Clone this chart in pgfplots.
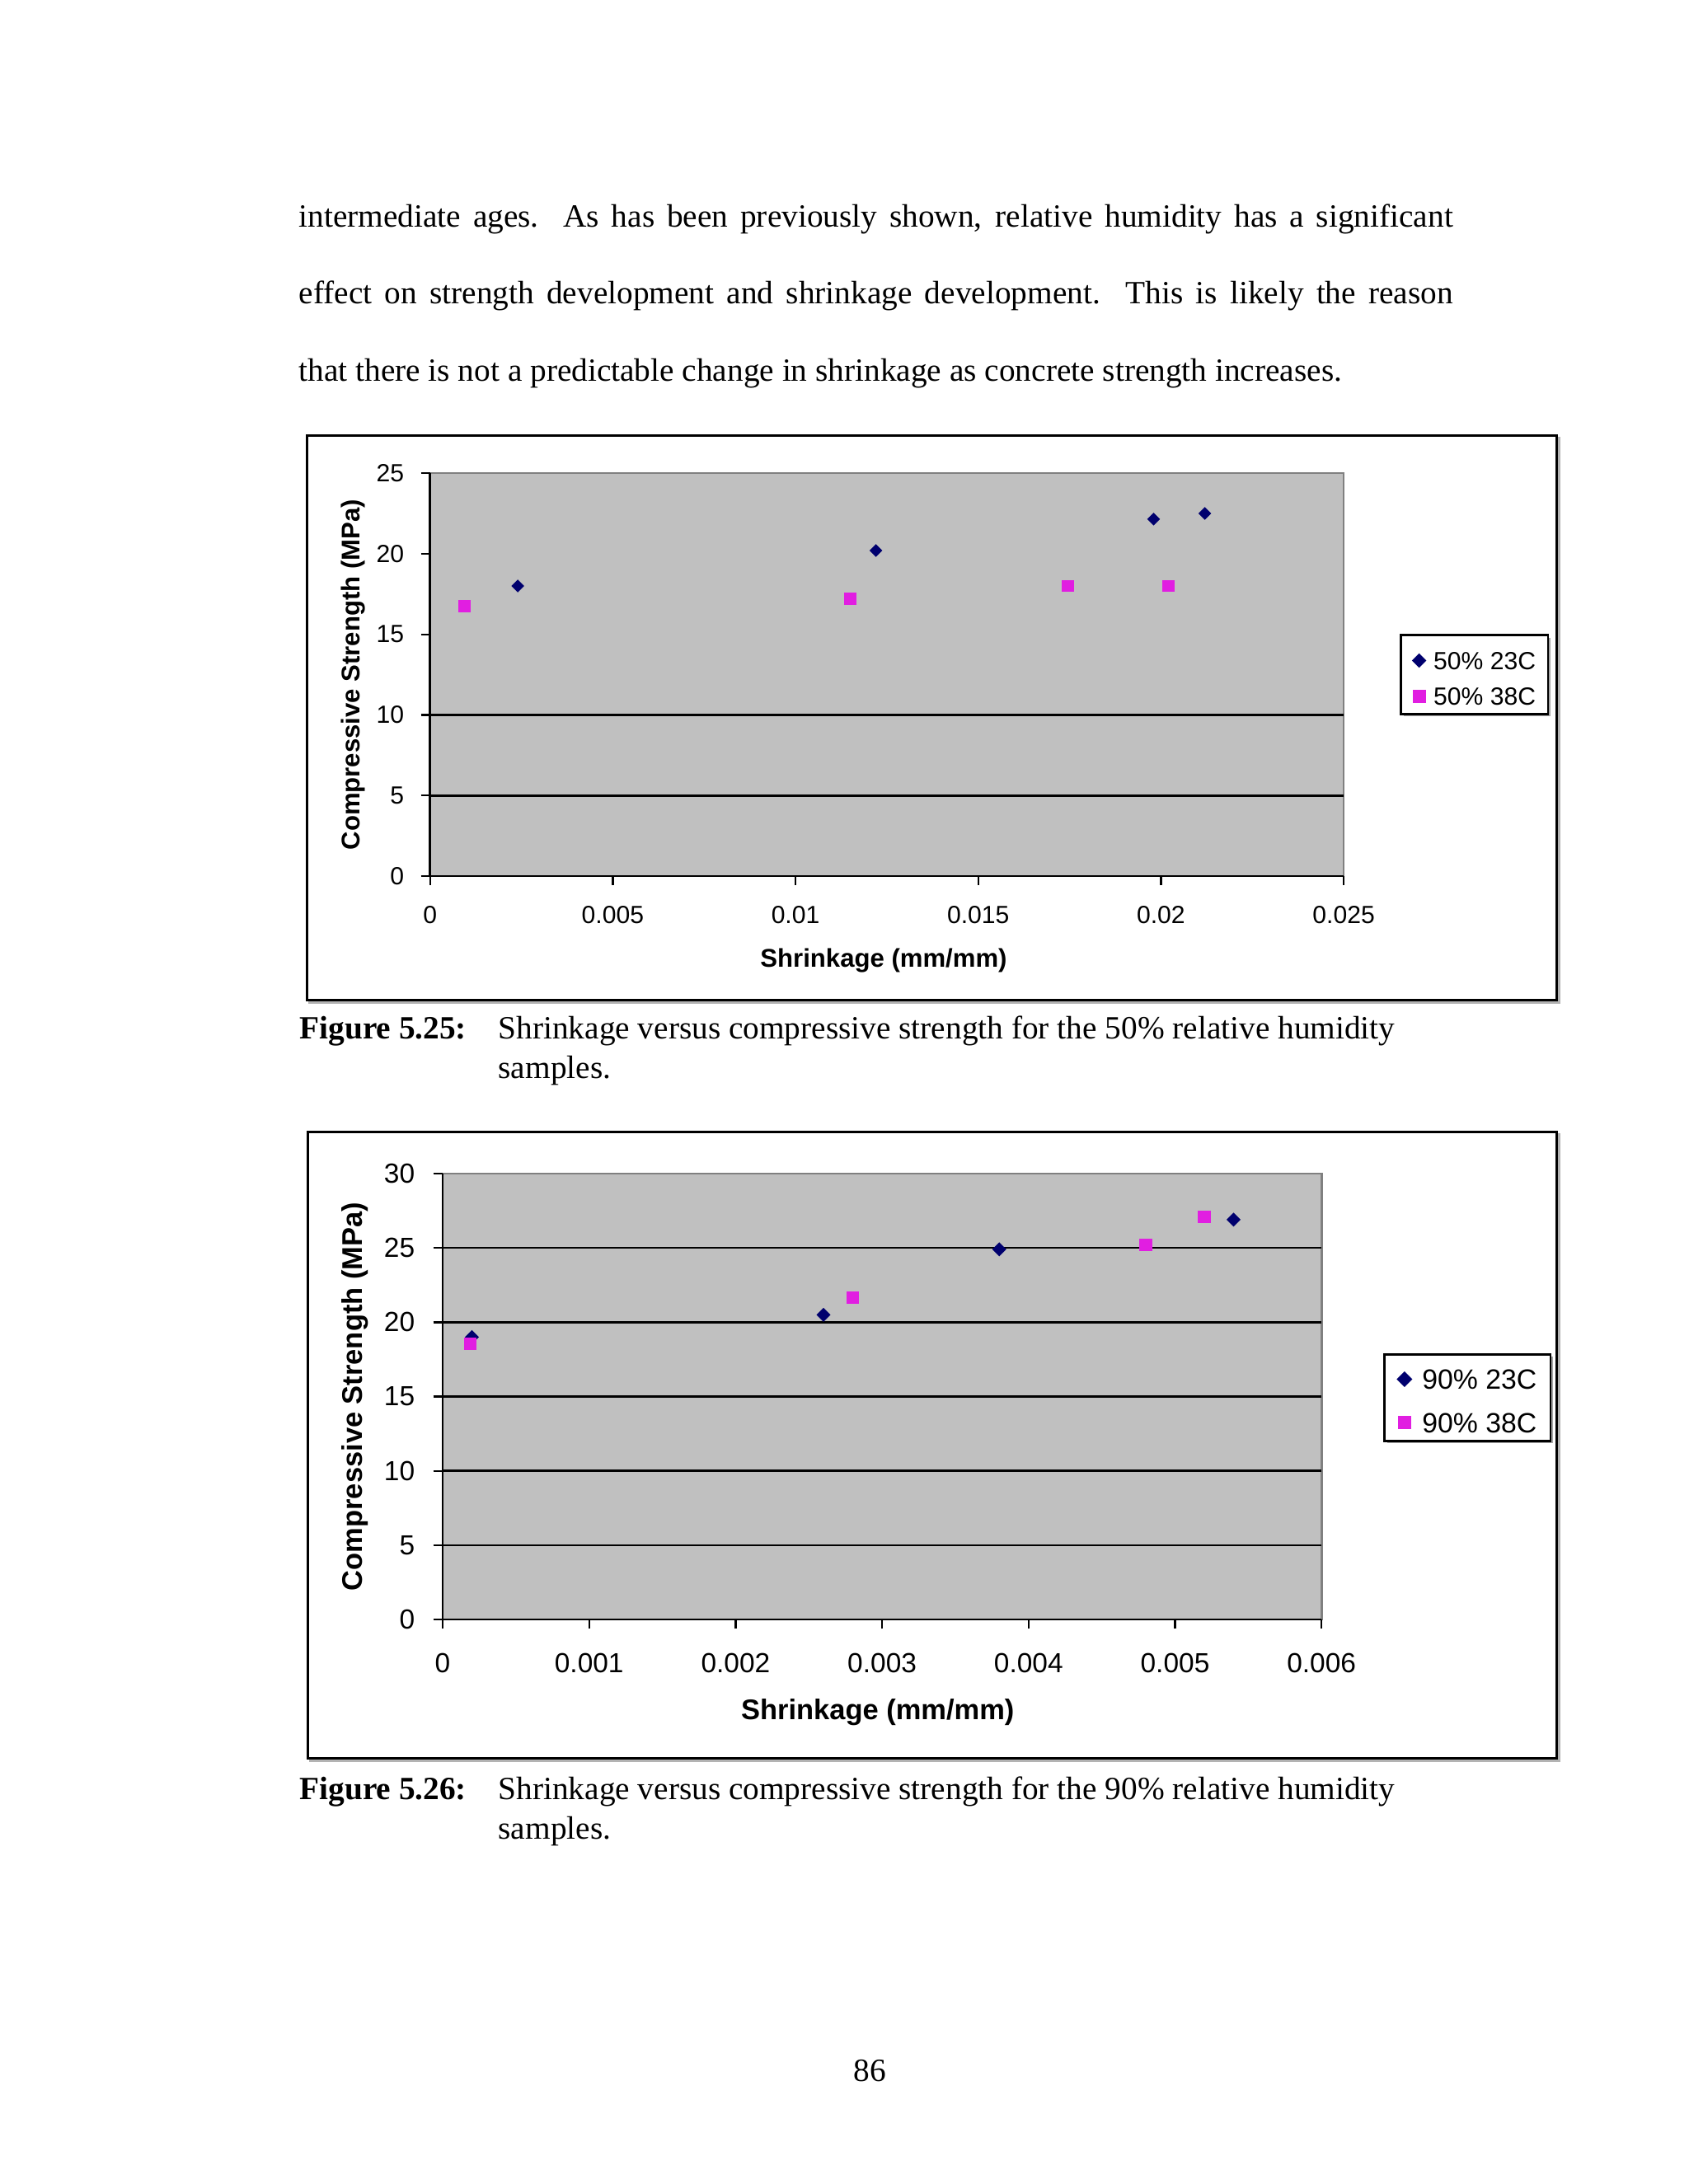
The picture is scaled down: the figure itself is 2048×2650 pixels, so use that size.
\documentclass[border=0pt]{standalone}
\usepackage{fontspec}
\setmainfont{Liberation Serif}
\setsansfont{Liberation Sans}
\usepackage{pgfplots}
\pgfplotsset{compat=1.18}
\usetikzlibrary{shadows}

\definecolor{plotgray}{RGB}{192,192,192}
\definecolor{edgegray}{RGB}{128,128,128}
\definecolor{navyblue}{RGB}{0,0,110}
\definecolor{mag}{RGB}{225,30,225}

\newcommand\bodyfont{\fontsize{11.75bp}{14bp}\selectfont}

% Excel-like scatter chart look
\pgfplotsset{
  excelchart/.style={
    scale only axis,
    anchor=south west,
    axis x line=bottom, axis y line=left,
    axis line style={black, line width=0.8bp, -},
    axis background/.style={fill=plotgray, draw=edgegray, line width=0.8bp},
    tick align=outside,
    tick style={black, line width=0.7bp},
    /pgf/number format/assume math mode=true,
    scaled x ticks=false,
    every tick label/.append style={inner sep=0pt},
    label style={font=\sffamily\bfseries},
    legend cell align=left,
    clip=false,
  },
  diam/.style={only marks, mark=square*, mark options={rotate=45}, color=navyblue},
  sq/.style={only marks, mark=square*, color=mag},
}

\begin{document}
\begin{tikzpicture}
% page coordinates in scan pixels (2048 x 2650), y downwards negative
\begin{scope}[x=0.29883bp, y=0.29883bp]
\fill[white] (0,0) rectangle (2048,-2650);
\useasboundingbox (0,0) rectangle (2048,-2650);

% body text
\node[anchor=base west, inner sep=0pt, font=\bodyfont] at (362,-275)
  {\makebox[418.4bp][s]{intermediate ages.\ \ As has been previously shown, relative humidity has a significant}};
\node[anchor=base west, inner sep=0pt, font=\bodyfont] at (362,-368.5)
  {\makebox[418.4bp][s]{effect on strength development and shrinkage development.\ \ This is likely the reason}};
\node[anchor=base west, inner sep=0pt, font=\bodyfont] at (362,-462)
  {that there is not a predictable change in shrinkage as concrete strength increases.};

% chart frames
\draw[edgegray!60, line width=1bp] (375.3,-531.3) rectangle (1891.3,-1216.3);
\draw[black, line width=0.9bp, fill=white] (372.3,-528.3) rectangle (1888.3,-1213.3);
\draw[edgegray!60, line width=1bp] (376.3,-1376.3) rectangle (1891,-2136);
\draw[black, line width=0.9bp, fill=white] (373.3,-1373.3) rectangle (1888,-2133);

% captions
\node[anchor=base west, inner sep=0pt, font=\bodyfont] at (363,-1260) {\textbf{Figure 5.25:}};
\node[anchor=base west, inner sep=0pt, font=\bodyfont] at (604,-1260)
  {Shrinkage versus compressive strength for the 50\% relative humidity};
\node[anchor=base west, inner sep=0pt, font=\bodyfont] at (604,-1308) {samples.};
\node[anchor=base west, inner sep=0pt, font=\bodyfont] at (363,-2183) {\textbf{Figure 5.26:}};
\node[anchor=base west, inner sep=0pt, font=\bodyfont] at (604,-2183)
  {Shrinkage versus compressive strength for the 90\% relative humidity};
\node[anchor=base west, inner sep=0pt, font=\bodyfont] at (604,-2231) {samples.};

% page number
\node[anchor=base, inner sep=0pt, font=\bodyfont] at (1055,-2525) {86};
\end{scope}

% Figure 5.25
\begin{axis}[excelchart,
  at={(155.90bp,-317.66bp)},
  width=331.2bp, height=146.1bp,
  xmin=0, xmax=0.025, ymin=0, ymax=25,
  xtick={0,0.005,0.01,0.015,0.02,0.025},
  xticklabels={0,0.005,0.01,0.015,0.02,0.025},
  ytick={0,5,10,15,20,25},
  extra y ticks={5,10}, extra y tick labels={},
  extra y tick style={grid=major, major grid style={black, line width=0.8bp}, major tick length=0pt},
  major tick length=3.3bp,
  tick label style={font=\sffamily\fontsize{9bp}{9bp}\selectfont},
  xticklabel style={yshift=-7.5bp},
  yticklabel style={xshift=-5.96bp},
  xlabel={Shrinkage (mm/mm)},
  ylabel={Compressive Strength (MPa)},
  xlabel style={at={(axis description cs:0.4965,-0.2086)}, anchor=center,
    font=\sffamily\bfseries\fontsize{9.3bp}{9.3bp}\selectfont},
  ylabel style={at={(axis description cs:-0.0845,0.5)}, anchor=center,
    font=\sffamily\bfseries\fontsize{9.3bp}{9.3bp}\selectfont},
  legend image code/.code={\draw[#1] plot coordinates {(0bp,-1.34bp)};},
  legend style={at={(axis description cs:1.0616,0.6006)}, anchor=north west,
    draw=black, line width=0.8bp, fill=white,
    drop shadow={shadow xshift=0.9bp, shadow yshift=-0.9bp, fill=edgegray, opacity=0.7},
    font=\sffamily\fontsize{9bp}{9bp}\selectfont,
    inner xsep=4.5bp, inner ysep=1.35bp, row sep=0pt,
    /tikz/every odd column/.append style={column sep=3.2bp},
    nodes={inner sep=0pt, text height=11.04bp, text depth=1.91bp}},
]
\addplot[diam, mark size=1.45bp] coordinates {
  (0.0024,18.0) (0.0122,20.2) (0.0198,22.15) (0.0212,22.5)};
\addplot[sq, mark size=2bp] coordinates {
  (0.00095,16.75) (0.0115,17.2) (0.01745,18.0) (0.0202,18.0)};
\legend{50\% 23C, 50\% 38C}
\end{axis}

% Figure 5.26
\begin{axis}[excelchart,
  at={(160.47bp,-587.20bp)},
  width=318.6bp, height=161.7bp,
  xmin=0, xmax=0.006, ymin=0, ymax=30,
  xtick={0,0.001,0.002,0.003,0.004,0.005,0.006},
  xticklabels={0,0.001,0.002,0.003,0.004,0.005,0.006},
  ytick={0,5,10,15,20,25,30},
  extra y ticks={5,10,15,20,25}, extra y tick labels={},
  extra y tick style={grid=major, major grid style={black, line width=0.8bp}, major tick length=0pt},
  major tick length=3.4bp,
  tick label style={font=\sffamily\fontsize{10bp}{10bp}\selectfont},
  xticklabel style={yshift=-8.6bp},
  yticklabel style={xshift=-6.5bp},
  xlabel={Shrinkage (mm/mm)},
  ylabel={Compressive Strength (MPa)},
  xlabel style={at={(axis description cs:0.495,-0.2089)}, anchor=center,
    font=\sffamily\bfseries\fontsize{10.3bp}{10.3bp}\selectfont},
  ylabel style={at={(axis description cs:-0.0994,0.5)}, anchor=center,
    font=\sffamily\bfseries\fontsize{10.3bp}{10.3bp}\selectfont},
  legend image code/.code={\draw[#1] plot coordinates {(0bp,-1.15bp)};},
  legend style={at={(axis description cs:1.0704,0.597)}, anchor=north west,
    draw=black, line width=0.8bp, fill=white,
    drop shadow={shadow xshift=0.9bp, shadow yshift=-0.9bp, fill=edgegray, opacity=0.7},
    font=\sffamily\fontsize{10.1bp}{10.1bp}\selectfont,
    inner xsep=5bp, inner ysep=0pt, row sep=0pt,
    /tikz/every odd column/.append style={column sep=4.15bp},
    nodes={inner sep=0pt, text height=12.62bp, text depth=3.08bp}},
]
\addplot[diam, mark size=1.6bp] coordinates {
  (0.0002,19.0) (0.0026,20.5) (0.0038,24.9) (0.0054,26.9)};
\addplot[sq, mark size=2.1bp] coordinates {
  (0.00019,18.55) (0.0028,21.65) (0.0048,25.2) (0.0052,27.1)};
\legend{90\% 23C, 90\% 38C}
\end{axis}
\end{tikzpicture}
\end{document}
